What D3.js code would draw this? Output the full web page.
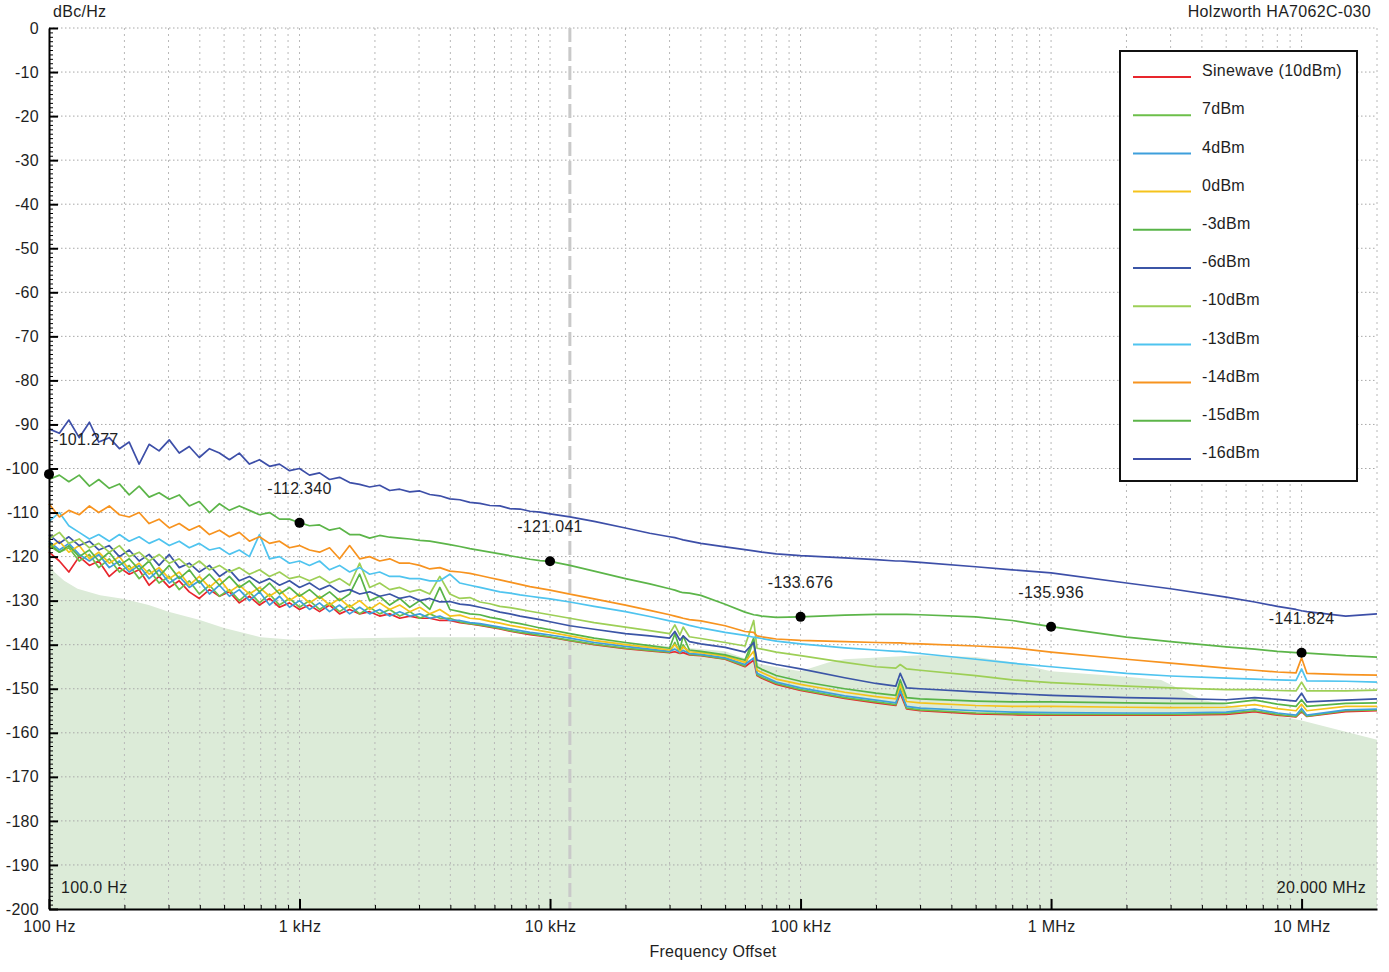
<!DOCTYPE html>
<html>
<head>
<meta charset="utf-8">
<script src="https://cdn.jsdelivr.net/npm/d3@7"></script>
<style>
body { margin: 0; background: #fff; }
text { font-family: "Liberation Sans", Arial, sans-serif; fill: #1e1e1e; font-size: 16px; letter-spacing: 0.3px; }
</style>
</head>
<body>
<div id="vis"></div>
<script>
const W = 1389, H = 972;
const margin = { top: 28, right: 12, bottom: 63, left: 49 };
const width = W - margin.left - margin.right;
const height = H - margin.top - margin.bottom;

// offset frequencies (Hz) shared by all traces
const freqs = [
  100, 110, 120, 132, 145, 158, 174, 191, 209, 229,
  251, 275, 302, 331, 363, 398, 437, 479, 525, 575,
  631, 692, 759, 832, 912, 1000, 1096, 1202, 1318, 1445,
  1585, 1738, 1905, 2089, 2291, 2512, 2754, 3020, 3311, 3631,
  3981, 4365, 4786, 5248, 5754, 6310, 6918, 7586, 8318, 9120,
  10000, 12000, 15000, 20000, 25000, 30000, 31500, 33000, 34000, 36000,
  40000, 50000, 60000, 65000, 67000, 70000, 80000, 100000, 150000, 200000,
  240000, 250000, 265000, 300000, 500000, 700000, 1e6, 2e6, 3e6, 5e6,
  6.5e6, 8e6, 9.5e6, 1e7, 1.05e7, 1.5e7, 2e7
];

const sine10 = [
  -119, -121, -123.5, -120, -122, -121, -124.5, -122.5, -124, -123,
  -126.5, -124.5, -127, -125.5, -128, -129.5, -127.5, -129, -128, -130.5,
  -129, -131, -129.5, -131.5, -130.5, -132, -131, -132.5, -131, -133,
  -132, -133, -132.5, -133.5, -133, -134, -133.5, -134, -134, -134.5,
  -134.5, -135, -135.3, -135.6, -136, -136.4, -136.9, -137.3, -137.7, -138,
  -138.3, -139.1, -140, -140.9, -141.4, -141.8, -141.6, -142, -141.8, -142.3,
  -142.5, -143.3, -145, -143.5, -147, -147.6, -149, -150.4, -152.2, -153.2,
  -153.8, -151, -154.6, -155, -155.7, -155.9, -156, -156, -156, -155.8,
  -155.2, -156, -156.4, -155.2, -156.3, -155.2, -155
];
const dbm7 = [
  -117.5, -119, -118, -121, -119.5, -122.5, -120.5, -123.5, -122, -125,
  -123, -126, -124.5, -127.5, -125.5, -128.5, -126.5, -129, -127.5, -130,
  -128, -130.5, -128.5, -131, -129.5, -131.5, -130, -132, -130.5, -132.5,
  -131, -133, -131.5, -133, -132, -133.5, -132.5, -134, -133, -134,
  -134, -134.8, -135.2, -135.5, -135.9, -136.3, -136.8, -137.2, -137.5, -137.9,
  -138.2, -139, -139.9, -140.8, -141.3, -141.7, -139.5, -141.9, -140, -142.2,
  -142.4, -143.2, -144.8, -139, -146.8, -147.4, -148.8, -150.2, -152, -153,
  -153.6, -150, -154.4, -154.8, -155.5, -155.7, -155.8, -155.8, -155.8, -155.6,
  -155, -155.8, -156.3, -155, -156.2, -155, -154.8
];
const dbm4 = [
  -116.5, -118.5, -117, -119.5, -121, -119.5, -122.5, -121, -123.5, -122,
  -125, -123, -126, -124.5, -127, -125.5, -128.5, -126.5, -129, -127.5,
  -130, -128, -131, -129, -131.5, -130, -132, -130.5, -132.5, -131,
  -133, -131.5, -133, -132, -133.5, -132.5, -133.5, -133, -134, -133.5,
  -134.5, -134.5, -135, -135.2, -135.6, -136, -136.4, -136.8, -137.2, -137.5,
  -137.8, -138.5, -139.5, -140.4, -141, -141.5, -141, -141.7, -141.3, -142,
  -142.2, -143, -144.5, -143, -146.5, -147, -148.5, -149.8, -151.6, -152.6,
  -153.2, -150.5, -154, -154.4, -155, -155.3, -155.4, -155.5, -155.5, -155.3,
  -154.6, -155.5, -156, -154.5, -156, -154.8, -154.6
];
const dbm0 = [
  -118, -116.5, -119, -117.5, -120.5, -119, -121.5, -120, -123, -121.5,
  -124, -122.5, -125, -123.5, -126.5, -124.5, -127, -125, -128, -126.5,
  -128.5, -127, -129, -127.5, -130, -128.5, -130.5, -129, -131, -129.5,
  -131.5, -130, -132, -130.5, -132, -131, -132.5, -131.5, -133, -132,
  -133.5, -133.3, -134, -134.2, -134.7, -135.1, -135.6, -136, -136.4, -136.8,
  -137.2, -138, -139, -140, -140.6, -141.2, -140, -141.4, -140.5, -141.6,
  -141.8, -142.6, -144, -141.5, -145.8, -146.3, -147.8, -149, -150.8, -151.8,
  -152.3, -149, -152.9, -153.2, -153.8, -154, -154, -154.2, -154.3, -154.2,
  -153.6, -154.5, -155, -153.5, -155, -154, -154
];
const dbmM3 = [
  -117, -119, -117.5, -120, -118.5, -121, -119, -122, -120.5, -123,
  -121, -124.5, -122, -125, -123, -126, -124, -126.5, -124.5, -127,
  -125.5, -128, -126, -128.5, -127, -129, -127.5, -129.5, -128, -130,
  -128.5, -124, -130, -129, -131, -129.5, -131.5, -130, -132, -127,
  -132, -132.5, -133, -133.2, -133.8, -134.2, -134.8, -135.2, -135.7, -136.2,
  -136.6, -137.5, -138.5, -139.5, -140.2, -140.8, -137.5, -141, -138, -141.2,
  -141.5, -142.3, -143.5, -138.5, -145, -145.6, -147, -148.3, -150, -151,
  -151.5, -148, -152, -152.3, -152.8, -153, -153, -153.2, -153.3, -153.3,
  -152.6, -153.5, -154, -152.5, -154, -153.3, -153.2
];
const dbmM6 = [
  -115, -117, -115.5, -117.5, -116.5, -118.5, -117.5, -120, -118.5, -121,
  -119.5, -122, -119.5, -122.5, -121.5, -123.5, -122, -124.5, -123, -125.5,
  -124.5, -126, -125, -126.5, -125.5, -127, -126, -127.5, -126.5, -128,
  -127.5, -128.5, -128, -129, -128.5, -129.5, -129, -130, -129.5, -130.3,
  -130.2, -130.8, -131, -131.5, -132, -132.6, -133, -133.5, -133.9, -134.3,
  -134.8, -135.7, -136.5, -137.5, -138, -138.5, -137, -139, -138, -139.3,
  -139.8, -140.6, -141.7, -139.5, -143.5, -143.8, -144.5, -145.5, -147.5, -148.8,
  -149.4, -146.5, -149.8, -150, -150.7, -151.1, -151.5, -152, -152.2, -152.5,
  -152, -152.4, -152.8, -151, -153, -152.6, -152.3
];
const dbmM10 = [
  -116, -114.5, -117, -116, -118, -117, -119, -117.5, -120, -119,
  -121, -119.5, -121.5, -120.5, -122.5, -121, -123, -122, -123.5, -122.5,
  -124, -123, -124.5, -123.5, -125, -124.5, -125.5, -124.5, -126, -125,
  -126.5, -121.5, -127, -126, -127.5, -127, -128, -127.5, -128.5, -124.5,
  -128.5, -129.5, -129.3, -130.3, -130.7, -131.3, -131.6, -132, -132.4, -132.8,
  -133.2, -134, -135, -136, -136.8, -137.5, -135.5, -137.8, -136, -138.2,
  -138.6, -139.5, -140.3, -134.5, -140.8, -141, -141.7, -142.5, -144, -145,
  -145.3, -144.5, -145.5, -145.8, -147, -148, -148.6, -149.4, -149.8, -150.2,
  -150.2, -150.4, -150.5, -148.5, -150.5, -150.5, -150.3
];
const dbmM13 = [
  -112, -110, -113, -114.5, -116, -115, -116.5, -115, -116.5, -115.5,
  -117, -116, -117.5, -116.5, -118, -117, -118.5, -118, -119.5, -118.5,
  -120, -115, -120.5, -120, -121.5, -121, -122, -121, -123, -122,
  -123.5, -122.5, -124, -123.5, -124.5, -124.5, -125, -125, -125.5, -125.5,
  -124, -126, -126.5, -127, -127.5, -128, -128.3, -128.7, -129, -129.3,
  -129.6, -130.3, -131.3, -132.5, -133.6, -134.6, -134.8, -135, -135.2, -135.6,
  -136.2, -137.2, -137.9, -138.3, -138.4, -138.6, -139.2, -139.8, -140.7, -141.2,
  -141.5, -141.5, -141.7, -142, -143.3, -144.2, -145, -146.5, -147.1, -147.6,
  -147.8, -148, -148.1, -145.5, -148.2, -148.3, -148.5
];
const dbmM14 = [
  -108, -111, -109.5, -110.5, -108.5, -110, -108.5, -110.5, -111, -110,
  -112.5, -111.5, -113.5, -112.5, -114, -113, -115, -114, -115.5, -114.5,
  -116.5, -115.5, -117, -116.5, -118, -117.5, -118.5, -119, -118, -120.5,
  -117.5, -120.5, -120, -121, -120.5, -121.5, -121.5, -122, -122.8, -122.5,
  -123.3, -123.5, -123.8, -124.3, -124.8, -125.3, -125.8, -126.3, -126.8, -127.2,
  -127.6, -128.5, -129.6, -131, -132.2, -133.2, -133.5, -133.8, -134, -134.3,
  -134.6, -135.7, -137, -137.2, -138, -138.2, -138.7, -139, -139.3, -139.5,
  -139.6, -139.6, -139.7, -139.8, -140.3, -140.7, -141.7, -143.3, -144.2, -145.3,
  -145.8, -146.2, -146.4, -143, -146.5, -146.8, -146.9
];
const dbmM15 = [
  -102.5, -101.5, -103, -101.5, -104, -102.5, -104.5, -103.5, -106, -104,
  -106.5, -105.5, -107, -106, -108.5, -107.5, -110, -108, -109.5, -108.5,
  -109.5, -110.5, -110, -111.5, -111.5, -112.3, -113, -112.8, -114, -113.5,
  -115, -115, -115.8, -115.2, -115.6, -115.8, -116, -116.3, -116.5, -116.9,
  -117.3, -117.7, -118.2, -118.6, -119, -119.4, -119.8, -120.2, -120.6, -120.9,
  -121.1, -122, -123.3, -125, -126.2, -127.3, -127.6, -128, -128.2, -128.3,
  -128.8, -130.8, -132.6, -133.2, -133.3, -133.5, -133.8, -133.7, -133.3, -133.1,
  -133.1, -133.1, -133.1, -133.2, -133.7, -134.5, -135.9, -138.3, -139.3, -140.5,
  -141, -141.5, -141.8, -141.8, -141.9, -142.5, -142.8
];
const dbmM16 = [
  -91, -92, -89, -93, -89.5, -94, -93, -95.5, -94, -99,
  -94.5, -96, -93.5, -96.5, -95, -97.5, -95.5, -96.5, -98, -96.5,
  -99, -98, -99.5, -99, -100.5, -100, -101.5, -101, -102.5, -102,
  -103.2, -103.6, -104.2, -103.8, -105, -104.7, -105.3, -105.1, -105.9, -106.2,
  -106.9, -107.1, -107.7, -107.9, -108.4, -108.5, -109.1, -109.2, -109.7, -109.9,
  -110.3, -111, -112, -113.5, -114.7, -115.5, -115.7, -116, -116.2, -116.5,
  -117, -117.8, -118.4, -118.7, -118.8, -119, -119.4, -119.8, -120.3, -120.7,
  -121, -121, -121.1, -121.3, -122.3, -123, -123.7, -126, -127.3, -129.2,
  -130.3, -131.3, -132, -132.3, -132.5, -133.5, -133
];

const seriesLabels = ['Sinewave (10dBm)', '7dBm', '4dBm', '0dBm', '-3dBm', '-6dBm', '-10dBm', '-13dBm', '-14dBm', '-15dBm', '-16dBm'];
const seriesColors = ['#e8262d', '#6cbf4a', '#3e9fdc', '#f5c31c', '#58b448', '#3b55a6', '#9dcf56', '#4fc4ef', '#f7931f', '#5cb549', '#3d4fa8'];
const seriesValues = [sine10, dbm7, dbm4, dbm0, dbmM3, dbmM6, dbmM10, dbmM13, dbmM14, dbmM15, dbmM16];

// shaded reference area
const fillFreqs = [100, 105, 115, 130, 160, 200, 250, 300, 400, 500, 700, 1000, 1500, 3000, 10000, 20000, 40000, 50000, 70000, 100000, 130000, 150000, 300000, 500000, 700000, 1e6, 2e6, 2.75e6, 4e6, 1e7, 2e7];
const fillVals = [-121, -123.5, -125.5, -127.3, -128.8, -129.6, -131, -132.5, -134.4, -136.2, -138.3, -139, -138.6, -138.3, -138.3, -139.5, -141, -141.5, -144.5, -146, -144, -143.3, -142.4, -142.8, -144, -146, -147.3, -148, -152.5, -157.2, -161.6];

// markers on the -15dBm trace
const markerFreqs = [100, 1000, 10000, 100000, 1e6, 1e7];
const markerVals = [-101.277, -112.340, -121.041, -133.676, -135.936, -141.824];

const yTicks = [0, -10, -20, -30, -40, -50, -60, -70, -80, -90, -100, -110, -120, -130, -140, -150, -160, -170, -180, -190, -200];
const xTicks = [100, 1e3, 1e4, 1e5, 1e6, 1e7];
const xTickLabels = ['100 Hz', '1 kHz', '10 kHz', '100 kHz', '1 MHz', '10 MHz'];
const cursorFreq = 12000;

const xScale = d3.scaleLog().domain([100, 2e7]).range([0, width]);
const yScale = d3.scaleLinear().domain([-200, 0]).range([height, 0]);

const root = d3.select('#vis').append('svg')
    .attr('width', W)
    .attr('height', H);

const svg = root.append('g')
    .attr('transform', `translate(${margin.left},${margin.top})`);

// green reference area
svg.append('path')
    .datum(fillFreqs.map((f, i) => ({ f: f, v: fillVals[i] })))
    .attr('fill', '#dcebd8')
    .attr('d', d3.area().x(d => xScale(d.f)).y0(height).y1(d => yScale(d.v)));

// grid
let minorX = [];
[100, 1e3, 1e4, 1e5, 1e6, 1e7].forEach(dec => {
    for (let k = 1; k <= 9; k++) {
        const f = dec * k;
        if (f > 100 && f <= 2e7) minorX.push(f);
    }
});

svg.append('g').selectAll('line')
    .data(minorX)
    .join('line')
    .attr('x1', d => xScale(d)).attr('x2', d => xScale(d))
    .attr('y1', 0).attr('y2', height)
    .attr('stroke', '#b8b8b8')
    .attr('stroke-width', 1)
    .attr('stroke-dasharray', '2,4');

svg.append('g').selectAll('line')
    .data(yTicks.filter(d => d > -200))
    .join('line')
    .attr('x1', 0).attr('x2', width)
    .attr('y1', d => yScale(d)).attr('y2', d => yScale(d))
    .attr('stroke', '#a8a8a8')
    .attr('stroke-width', 1)
    .attr('stroke-dasharray', '1.5,2.5');

// cursor line
svg.append('line')
    .attr('x1', xScale(cursorFreq)).attr('x2', xScale(cursorFreq))
    .attr('y1', 0).attr('y2', height)
    .attr('stroke', '#c9c9c9')
    .attr('stroke-width', 3)
    .attr('stroke-dasharray', '14,5');

// traces
const line = d3.line()
    .x((d, i) => xScale(freqs[i]))
    .y(d => yScale(d));

svg.append('g').selectAll('path')
    .data(seriesValues)
    .join('path')
    .attr('fill', 'none')
    .attr('stroke', (d, i) => seriesColors[i])
    .attr('stroke-width', 1.7)
    .attr('stroke-linejoin', 'round')
    .attr('d', line);

// axes
const yAxis = d3.axisLeft(yScale).tickValues(yTicks).tickFormat(d => String(d)).tickSize(-9).tickSizeOuter(0).tickPadding(10);
svg.append('g').attr('class', 'axis').call(yAxis)
    .call(g => g.select('.domain').attr('stroke-width', 2))
    .call(g => g.selectAll('.tick line').attr('stroke-width', 2));

svg.append('g')
    .call(d3.axisLeft(yScale).tickValues(d3.range(-199, 0, 1).filter(d => d % 10 !== 0)).tickSize(-4).tickFormat(''))
    .call(g => g.select('.domain').remove());

const xAxis = d3.axisBottom(xScale).tickValues(xTicks).tickFormat((d, i) => xTickLabels[i]).tickSize(-10).tickSizeOuter(0).tickPadding(12);
svg.append('g').attr('class', 'axis')
    .attr('transform', `translate(0,${height})`)
    .call(xAxis)
    .call(g => g.select('.domain').attr('stroke-width', 2))
    .call(g => g.selectAll('.tick line').attr('stroke-width', 2));

svg.append('g')
    .attr('transform', `translate(0,${height})`)
    .call(d3.axisBottom(xScale).tickValues(minorX.filter(f => xTicks.indexOf(f) < 0 && f < 2e7)).tickSize(-4).tickFormat(''))
    .call(g => g.select('.domain').remove());

svg.selectAll('.axis text')
    .attr('fill', '#1e1e1e')
    .style('font-size', '16px');

// markers
markerFreqs.forEach((f, i) => {
    const cx = xScale(f), cy = yScale(markerVals[i]);
    svg.append('circle')
        .attr('cx', cx).attr('cy', cy).attr('r', 5)
        .attr('fill', '#000');
    svg.append('text')
        .attr('x', cx < 30 ? 4 : cx)
        .attr('y', cy - 33)
        .attr('text-anchor', cx < 30 ? 'start' : 'middle')
        .attr('dominant-baseline', 'middle')
        .attr('fill', '#2a2a2a')
        .text(markerVals[i].toFixed(3));
});

// start/stop annotations
svg.append('text')
    .attr('x', 12).attr('y', height - 20)
    .attr('dominant-baseline', 'middle')
    .text('100.0 Hz');

svg.append('text')
    .attr('x', width - 11).attr('y', height - 20)
    .attr('text-anchor', 'end')
    .attr('dominant-baseline', 'middle')
    .text('20.000 MHz');

// titles
root.append('text')
    .attr('x', 53).attr('y', 13)
    .attr('dominant-baseline', 'middle')
    .text('dBc/Hz');

root.append('text')
    .attr('x', 1371).attr('y', 13)
    .attr('text-anchor', 'end')
    .attr('dominant-baseline', 'middle')
    .text('Holzworth HA7062C-030');

root.append('text')
    .attr('x', margin.left + width / 2).attr('y', 953)
    .attr('text-anchor', 'middle')
    .attr('dominant-baseline', 'middle')
    .text('Frequency Offset');

// legend
const legend = root.append('g').attr('transform', 'translate(1120,51)');
legend.append('rect')
    .attr('width', 237).attr('height', 430)
    .attr('fill', '#fff')
    .attr('stroke', '#111')
    .attr('stroke-width', 2);

const rows = legend.selectAll('.row')
    .data(seriesLabels)
    .join('g')
    .attr('class', 'row')
    .attr('transform', (d, i) => `translate(0,${21 + i * 38.2})`);

rows.append('line')
    .attr('x1', 13).attr('x2', 71)
    .attr('y1', 5).attr('y2', 5)
    .attr('stroke', (d, i) => seriesColors[i])
    .attr('stroke-width', 2);

rows.append('text')
    .attr('x', 82).attr('y', 0)
    .attr('dominant-baseline', 'middle')
    .text(d => d);
</script>
</body>
</html>
